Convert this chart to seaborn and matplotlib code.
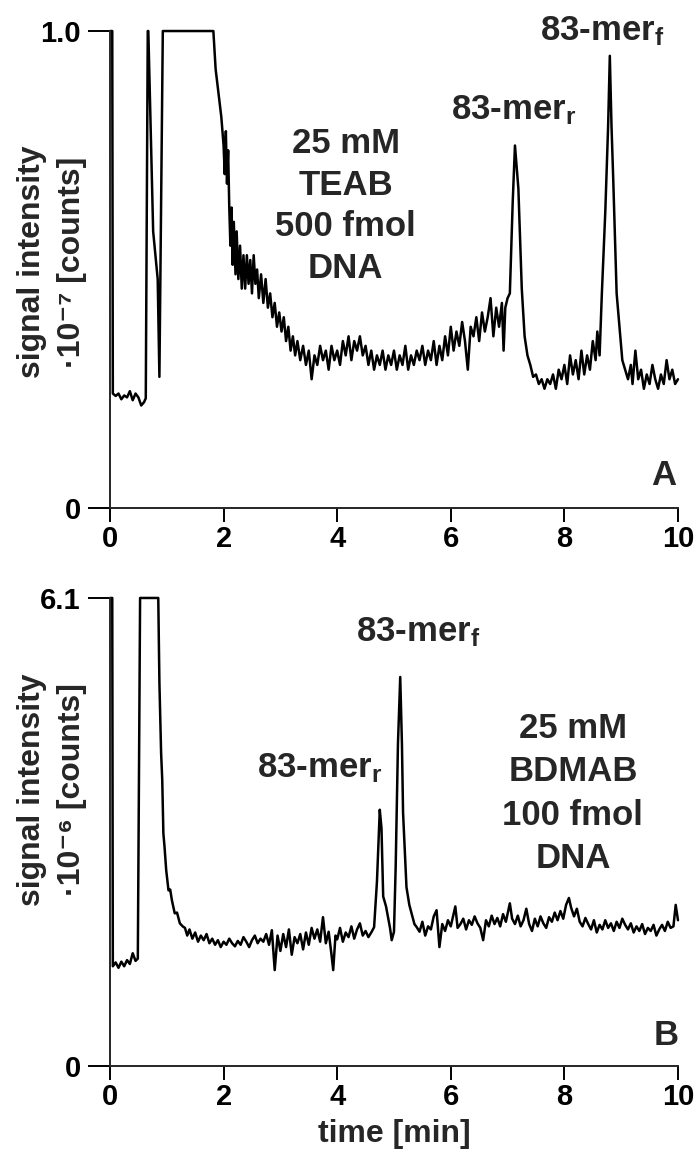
import matplotlib
matplotlib.use("Agg")
import matplotlib.pyplot as plt
import seaborn as sns
import pandas as pd

# Chromatogram A: 25 mM TEAB, 500 fmol DNA (signal in 1e7 counts)
time_a = [0.00, 0.04, 0.05, 0.10, 0.15, 0.20, 0.25, 0.30, 0.35, 0.40, 0.45, 0.50, 0.55, 0.60,
          0.63, 0.665, 0.675, 0.76, 0.80, 0.84, 0.87, 0.93, 1.82, 1.86, 1.91, 1.96, 2.00, 2.02,
          2.04, 2.06, 2.08, 2.10, 2.12, 2.14, 2.16, 2.18, 2.21, 2.23, 2.26, 2.29, 2.32, 2.35,
          2.38, 2.41, 2.44, 2.47, 2.50, 2.53, 2.56, 2.59, 2.62, 2.66, 2.70, 2.74, 2.78, 2.82,
          2.86, 2.90, 2.94, 2.98, 3.02, 3.06, 3.10, 3.14, 3.18, 3.22, 3.26, 3.30, 3.35, 3.40,
          3.45, 3.50, 3.55, 3.60, 3.65, 3.70, 3.75, 3.80, 3.85, 3.90, 3.95, 4.00, 4.05, 4.10,
          4.15, 4.20, 4.25, 4.30, 4.35, 4.40, 4.45, 4.50, 4.55, 4.60, 4.65, 4.70, 4.75, 4.80,
          4.85, 4.90, 4.95, 5.00, 5.05, 5.10, 5.15, 5.20, 5.25, 5.30, 5.35, 5.40, 5.45, 5.50,
          5.55, 5.60, 5.65, 5.70, 5.75, 5.80, 5.85, 5.90, 5.95, 6.00, 6.05, 6.10, 6.15, 6.20,
          6.25, 6.30, 6.35, 6.40, 6.45, 6.50, 6.55, 6.60, 6.65, 6.70, 6.75, 6.80, 6.85, 6.90,
          6.93, 6.96, 7.00, 7.04, 7.09, 7.13, 7.19, 7.25, 7.30, 7.35, 7.40, 7.45, 7.50, 7.55,
          7.60, 7.65, 7.70, 7.75, 7.80, 7.85, 7.90, 7.95, 8.00, 8.05, 8.10, 8.15, 8.20, 8.25,
          8.30, 8.35, 8.40, 8.45, 8.50, 8.55, 8.58, 8.62, 8.66, 8.72, 8.77, 8.80, 8.83, 8.86,
          8.92, 8.97, 9.02, 9.07, 9.12, 9.17, 9.20, 9.25, 9.30, 9.35, 9.40, 9.45, 9.50, 9.55,
          9.60, 9.65, 9.70, 9.75, 9.80, 9.85, 9.90, 9.95, 10.00]
signal_a = [1.00, 1.00, 0.240, 0.235, 0.240, 0.228, 0.236, 0.232, 0.245, 0.226, 0.240, 0.232, 0.215, 0.222,
            0.230, 1.00, 1.00, 0.58, 0.53, 0.48, 0.275, 1.00, 1.00, 0.92, 0.87, 0.82, 0.76, 0.70,
            0.79, 0.68, 0.75, 0.63, 0.55, 0.63, 0.51, 0.60, 0.49, 0.58, 0.48, 0.55, 0.46, 0.53,
            0.46, 0.53, 0.47, 0.52, 0.45, 0.53, 0.47, 0.50, 0.44, 0.49, 0.43, 0.48, 0.42, 0.45,
            0.40, 0.43, 0.38, 0.41, 0.37, 0.40, 0.35, 0.38, 0.33, 0.36, 0.32, 0.35, 0.31, 0.34,
            0.30, 0.33, 0.27, 0.32, 0.30, 0.34, 0.31, 0.33, 0.29, 0.34, 0.31, 0.33, 0.30, 0.35,
            0.32, 0.36, 0.31, 0.35, 0.33, 0.36, 0.32, 0.34, 0.30, 0.33, 0.29, 0.32, 0.30, 0.33,
            0.29, 0.32, 0.30, 0.33, 0.29, 0.32, 0.30, 0.34, 0.29, 0.32, 0.30, 0.33, 0.31, 0.34,
            0.30, 0.33, 0.31, 0.35, 0.30, 0.34, 0.31, 0.36, 0.32, 0.38, 0.33, 0.37, 0.34, 0.39,
            0.35, 0.29, 0.38, 0.36, 0.40, 0.35, 0.41, 0.37, 0.40, 0.44, 0.36, 0.42, 0.38, 0.43,
            0.33, 0.42, 0.44, 0.45, 0.64, 0.76, 0.67, 0.46, 0.36, 0.32, 0.30, 0.275, 0.28, 0.26,
            0.27, 0.25, 0.27, 0.26, 0.28, 0.25, 0.29, 0.27, 0.30, 0.26, 0.32, 0.28, 0.31, 0.27,
            0.33, 0.28, 0.32, 0.29, 0.35, 0.31, 0.37, 0.32, 0.45, 0.62, 0.80, 0.948, 0.80, 0.69,
            0.45, 0.38, 0.31, 0.29, 0.27, 0.30, 0.26, 0.33, 0.27, 0.29, 0.25, 0.28, 0.26, 0.30,
            0.27, 0.25, 0.28, 0.26, 0.31, 0.27, 0.29, 0.26, 0.27]

# Chromatogram B: 25 mM BDMAB, 100 fmol DNA (signal in 1e6 counts)
time_b = [0.00, 0.04, 0.05, 0.10, 0.15, 0.20, 0.25, 0.30, 0.35, 0.40, 0.45, 0.49, 0.53, 0.85,
          0.87, 0.88, 0.90, 0.92, 0.94, 0.96, 0.99, 1.03, 1.06, 1.09, 1.14, 1.18, 1.23, 1.28,
          1.32, 1.36, 1.40, 1.45, 1.50, 1.55, 1.60, 1.65, 1.70, 1.75, 1.80, 1.85, 1.90, 1.95,
          2.00, 2.05, 2.10, 2.15, 2.20, 2.25, 2.30, 2.35, 2.40, 2.45, 2.50, 2.55, 2.60, 2.65,
          2.70, 2.75, 2.80, 2.85, 2.90, 2.95, 3.00, 3.05, 3.10, 3.15, 3.20, 3.25, 3.30, 3.35,
          3.40, 3.45, 3.50, 3.55, 3.60, 3.65, 3.70, 3.75, 3.80, 3.85, 3.90, 3.93, 3.97, 4.00,
          4.05, 4.10, 4.15, 4.20, 4.25, 4.30, 4.35, 4.40, 4.45, 4.50, 4.55, 4.60, 4.65, 4.70,
          4.75, 4.78, 4.81, 4.86, 4.93, 4.96, 5.00, 5.03, 5.07, 5.11, 5.14, 5.16, 5.22, 5.27,
          5.31, 5.36, 5.40, 5.45, 5.50, 5.55, 5.60, 5.65, 5.70, 5.75, 5.80, 5.85, 5.90, 5.95,
          6.00, 6.05, 6.08, 6.12, 6.17, 6.22, 6.27, 6.32, 6.37, 6.42, 6.47, 6.52, 6.57, 6.62,
          6.67, 6.72, 6.77, 6.82, 6.87, 6.92, 6.97, 7.04, 7.08, 7.13, 7.18, 7.23, 7.28, 7.33,
          7.38, 7.43, 7.48, 7.53, 7.58, 7.63, 7.68, 7.73, 7.78, 7.83, 7.88, 7.93, 7.98, 8.03,
          8.08, 8.12, 8.17, 8.22, 8.27, 8.32, 8.37, 8.42, 8.47, 8.52, 8.57, 8.62, 8.67, 8.72,
          8.77, 8.82, 8.87, 8.92, 8.97, 9.02, 9.07, 9.12, 9.17, 9.22, 9.27, 9.32, 9.37, 9.42,
          9.47, 9.52, 9.57, 9.62, 9.67, 9.72, 9.77, 9.82, 9.87, 9.92, 9.96, 10.00]
signal_b = [6.10, 6.10, 1.30, 1.35, 1.28, 1.36, 1.30, 1.38, 1.33, 1.47, 1.37, 1.40, 6.10, 6.10,
            5.00, 4.68, 4.08, 3.73, 3.03, 2.86, 2.55, 2.29, 2.30, 2.16, 1.99, 2.00, 1.86, 1.82,
            1.80, 1.70, 1.78, 1.66, 1.74, 1.62, 1.70, 1.64, 1.72, 1.60, 1.66, 1.58, 1.64, 1.55,
            1.62, 1.58, 1.66, 1.60, 1.56, 1.63, 1.58, 1.68, 1.62, 1.55, 1.64, 1.70, 1.60, 1.66,
            1.62, 1.72, 1.58, 1.77, 1.25, 1.70, 1.50, 1.72, 1.55, 1.78, 1.45, 1.68, 1.60, 1.72,
            1.52, 1.74, 1.58, 1.80, 1.66, 1.78, 1.62, 1.94, 1.60, 1.75, 1.45, 1.25, 1.70, 1.65,
            1.80, 1.62, 1.74, 1.68, 1.82, 1.66, 1.78, 1.86, 1.70, 1.76, 1.68, 1.74, 1.81, 2.40,
            3.34, 3.10, 2.21, 2.08, 1.80, 1.64, 1.75, 2.60, 4.20, 5.07, 4.20, 3.30, 2.33, 2.10,
            1.99, 1.85, 1.81, 1.75, 1.88, 1.70, 1.82, 1.78, 1.95, 2.03, 1.55, 1.85, 1.76, 1.90,
            1.82, 1.98, 2.08, 1.80, 1.85, 1.92, 1.78, 1.90, 1.84, 1.95, 1.86, 1.80, 1.64, 1.90,
            1.82, 1.96, 1.85, 1.93, 1.82, 1.98, 1.88, 2.12, 1.92, 1.85, 1.96, 1.82, 1.90, 2.05,
            1.85, 1.76, 1.92, 1.82, 1.95, 1.86, 1.80, 1.94, 1.88, 2.00, 1.90, 2.02, 1.92, 2.10,
            2.19, 2.06, 1.95, 2.05, 1.88, 1.82, 1.93, 1.85, 1.78, 1.90, 1.74, 1.84, 1.78, 1.90,
            1.80, 1.86, 1.76, 1.88, 1.80, 1.92, 1.84, 1.78, 1.86, 1.74, 1.82, 1.76, 1.85, 1.72,
            1.80, 1.76, 1.84, 1.70, 1.78, 1.84, 1.76, 1.88, 1.80, 1.82, 2.10, 1.90]

xticks = [0, 2, 4, 6, 8, 10]
yticks_a = [0, 1.0]
yticklabels_a = ["0", "1.0"]
yticks_b = [0, 6.1]
yticklabels_b = ["0", "6.1"]

sns.set_style("ticks")
plt.rcParams["font.family"] = ["Liberation Sans", "DejaVu Sans"]
plt.rcParams["font.weight"] = "bold"
plt.rcParams["mathtext.default"] = "regular"
plt.rcParams["axes.linewidth"] = 1.4

TICK_FS = 21
TEXT_FS = 25
LABEL_FS = 23

fig = plt.figure(figsize=(6.97, 11.62), dpi=100)
ax_a = fig.add_axes([0.1578, 0.5628, 0.8149, 0.4105])
ax_b = fig.add_axes([0.1578, 0.0826, 0.8149, 0.4028])

df_a = pd.DataFrame({"time": time_a, "signal": signal_a})
df_b = pd.DataFrame({"time": time_b, "signal": signal_b})

for ax, df, top, yt, ytl in [(ax_a, df_a, 1.0, yticks_a, yticklabels_a),
                              (ax_b, df_b, 6.1, yticks_b, yticklabels_b)]:
    sns.lineplot(data=df, x="time", y="signal", ax=ax, color="black", lw=1.8,
                 estimator=None, sort=False, clip_on=False)
    ax.set_xlim(0, 10)
    ax.set_ylim(0, top)
    ax.set_xticks(xticks)
    ax.set_xticklabels([str(v) for v in xticks])
    ax.set_yticks(yt)
    ax.set_yticklabels(ytl)
    sns.despine(ax=ax)
    ax.tick_params(axis="x", direction="out", length=10, width=1.4, labelsize=TICK_FS,
                   pad=2, colors="black")
    ax.tick_params(axis="y", direction="out", length=16, width=1.4, labelsize=TICK_FS,
                   pad=5, colors="black")
    for lab in ax.get_xticklabels() + ax.get_yticklabels():
        lab.set_fontweight("bold")
    ax.set_xlabel("")
    ax.set_ylabel("")

# Rotated two-line axis titles for each panel
fig.text(52 / 697, 1 - 262 / 1162, "signal intensity\n\u00b710\u207b\u2077 [counts]",
         rotation=90, ha="center", va="center", multialignment="center",
         fontsize=LABEL_FS, fontweight="bold", linespacing=1.45)
fig.text(52 / 697, 1 - 790 / 1162, "signal intensity\n\u00b710\u207b\u2076 [counts]",
         rotation=90, ha="center", va="center", multialignment="center",
         fontsize=LABEL_FS, fontweight="bold", linespacing=1.45)
ax_b.set_xlabel("time [min]", fontsize=LABEL_FS, fontweight="bold", labelpad=6)

# Panel A annotations
ax_a.text(4.15, 0.633, "25 mM\nTEAB\n500 fmol\nDNA", fontsize=TEXT_FS, fontweight="bold",
          ha="center", va="center", linespacing=1.33)
ax_a.text(7.11, 0.835, "83-mer$_{r}$", fontsize=TEXT_FS, fontweight="bold", ha="center", va="center")
ax_a.text(8.66, 1.0, "83-mer$_{f}$", fontsize=TEXT_FS, fontweight="bold", ha="center", va="center")
ax_a.text(9.74, 0.069, "A", fontsize=TEXT_FS, fontweight="bold", ha="center", va="center")

# Panel B annotations
ax_b.text(8.15, 3.55, "25 mM\nBDMAB\n100 fmol\nDNA", fontsize=TEXT_FS, fontweight="bold",
          ha="center", va="center", linespacing=1.4)
ax_b.text(3.70, 3.88, "83-mer$_{r}$", fontsize=TEXT_FS, fontweight="bold", ha="center", va="center")
ax_b.text(5.42, 5.66, "83-mer$_{f}$", fontsize=TEXT_FS, fontweight="bold", ha="center", va="center")
ax_b.text(9.79, 0.40, "B", fontsize=TEXT_FS, fontweight="bold", ha="center", va="center")

fig.savefig("out.png", dpi=100)
